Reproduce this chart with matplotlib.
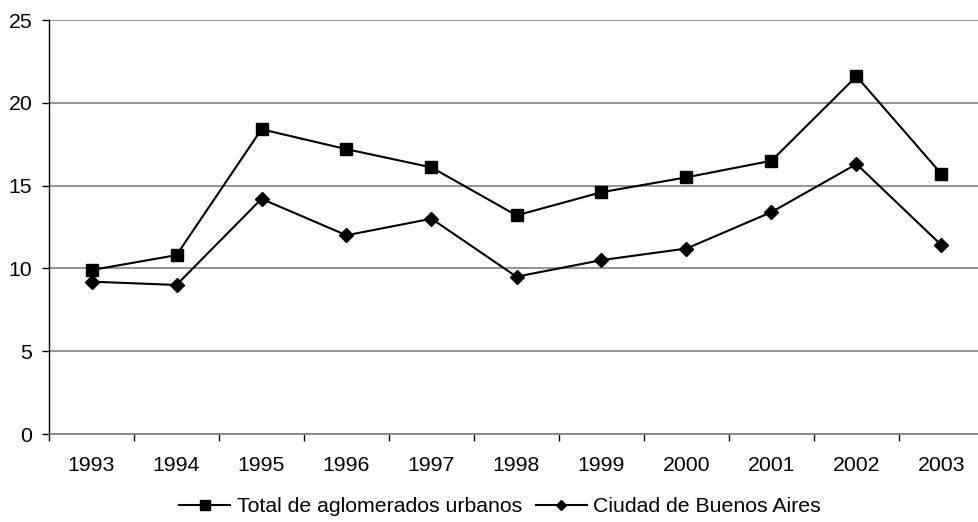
import matplotlib
matplotlib.use("Agg")
import matplotlib.pyplot as plt
import numpy as np

years = ["1993", "1994", "1995", "1996", "1997", "1998", "1999", "2000", "2001", "2002", "2003"]
total_aglomerados = [9.9, 10.8, 18.4, 17.2, 16.1, 13.2, 14.6, 15.5, 16.5, 21.6, 15.7]
ciudad_bsas = [9.2, 9.0, 14.2, 12.0, 13.0, 9.5, 10.5, 11.2, 13.4, 16.3, 11.4]
yticks = [0, 5, 10, 15, 20, 25]

plt.rcParams['font.family'] = ['Liberation Sans', 'DejaVu Sans']
FS = 15.3

W, H = 979, 522
fig = plt.figure(figsize=(W / 100, H / 100), dpi=100)
ax = fig.add_axes([49 / W, 88 / H, 935 / W, 414 / H])

x = np.arange(len(years))
ax.plot(x, total_aglomerados, color='black', lw=1.5, marker='s', ms=8.5,
        label='Total de aglomerados urbanos', zorder=3, clip_on=False)
ax.plot(x, ciudad_bsas, color='black', lw=1.5, marker='D', ms=6.8,
        label='Ciudad de Buenos Aires', zorder=3, clip_on=False)

ax.set_xlim(-0.5, len(years) - 0.5)
ax.set_ylim(0, 25)
ax.set_yticks(yticks)
ax.set_yticklabels([str(v) for v in yticks])
ax.yaxis.grid(True, color='#808080', lw=1.2)
ax.set_axisbelow(True)

ax.set_xticks(x)
ax.set_xticklabels(years)
ax.set_xticks(np.arange(-0.5, len(years)), minor=True)
ax.tick_params(axis='x', which='major', length=0, pad=16, labelsize=FS, colors='black')
ax.tick_params(axis='x', which='minor', length=5, width=1, color='black', direction='out')
ax.tick_params(axis='y', length=5, width=1, pad=7, labelsize=FS, color='black', direction='out')

for s in ['top', 'right']:
    ax.spines[s].set_visible(False)
ax.spines['left'].set_color('black')
ax.spines['left'].set_linewidth(1)
ax.spines['bottom'].set_color('#808080')
ax.spines['bottom'].set_linewidth(1.2)

leg = fig.legend(loc='center', bbox_to_anchor=(500 / W, 1 - 507 / H), ncol=2,
                 frameon=False, fontsize=FS, handlelength=2.4, handletextpad=0.3,
                 columnspacing=0.65, markerscale=0.8, borderpad=0.1)

fig.savefig('out.png', dpi=100)
